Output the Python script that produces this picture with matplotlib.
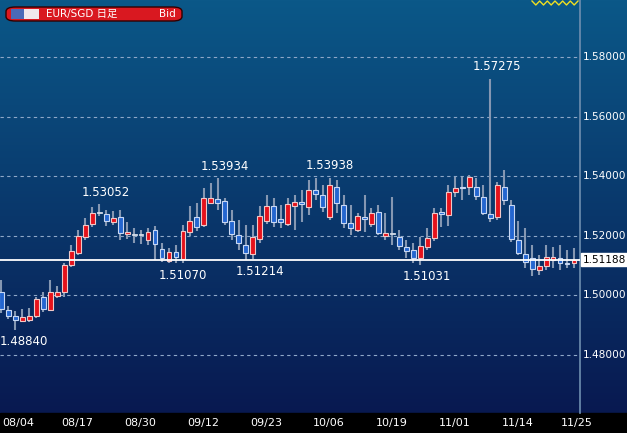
import numpy as np
import matplotlib.pyplot as plt
from matplotlib.patches import FancyBboxPatch, Rectangle

plt.rcParams['font.family'] = ['DejaVu Sans', 'Noto Sans CJK JP']

# データ (EUR/SGD 日足)
opens = [1.5010, 1.4949, 1.4930, 1.4915, 1.4918, 1.4931, 1.4993, 1.4950, 1.4997, 1.5010,
         1.5102, 1.5142, 1.5195, 1.5240, 1.5277, 1.5272, 1.5245, 1.5263, 1.5205, 1.5203,
         1.5202, 1.5186, 1.5219, 1.5155, 1.5115, 1.5145, 1.5123, 1.5212, 1.5264, 1.5236,
         1.5310, 1.5322, 1.5315, 1.5250, 1.5203, 1.5170, 1.5139, 1.5190, 1.5250, 1.5300,
         1.5255, 1.5240, 1.5300, 1.5312, 1.5297, 1.5354, 1.5337, 1.5263, 1.5363, 1.5303,
         1.5243, 1.5220, 1.5262, 1.5240, 1.5280, 1.5200, 1.5208, 1.5197, 1.5163, 1.5152,
         1.5126, 1.5162, 1.5193, 1.5280, 1.5270, 1.5346, 1.5363, 1.5363, 1.5364, 1.5330,
         1.5272, 1.5263, 1.5364, 1.5303, 1.5186, 1.5140, 1.5125, 1.5085, 1.5099, 1.5120,
         1.5126, 1.5110, 1.5108]
closes = [1.4953, 1.4929, 1.4917, 1.4928, 1.4932, 1.4988, 1.4953, 1.5010, 1.5010, 1.5100,
          1.5150, 1.5200, 1.5237, 1.5277, 1.5279, 1.5248, 1.5258, 1.5210, 1.5212, 1.5204,
          1.5203, 1.5212, 1.5172, 1.5125, 1.5145, 1.5127, 1.5215, 1.5249, 1.5229, 1.5327,
          1.5327, 1.5311, 1.5246, 1.5206, 1.5175, 1.5142, 1.5196, 1.5266, 1.5300, 1.5246,
          1.5245, 1.5305, 1.5312, 1.5305, 1.5354, 1.5340, 1.5297, 1.5370, 1.5310, 1.5243,
          1.5226, 1.5266, 1.5257, 1.5277, 1.5210, 1.5210, 1.5206, 1.5165, 1.5148, 1.5125,
          1.5166, 1.5193, 1.5277, 1.5273, 1.5347, 1.5360, 1.5360, 1.5397, 1.5334, 1.5277,
          1.5258, 1.5370, 1.5320, 1.5190, 1.5142, 1.5112, 1.5087, 1.5099, 1.5130, 1.5127,
          1.5110, 1.5106, 1.51188]
highs = [1.5050, 1.4963, 1.4946, 1.4953, 1.4957, 1.4995, 1.5011, 1.5050, 1.5030, 1.5110,
         1.5168, 1.5220, 1.5260, 1.5295, 1.53052, 1.5286, 1.5283, 1.5287, 1.5245, 1.5227,
         1.5220, 1.5226, 1.5233, 1.5176, 1.5159, 1.5169, 1.5236, 1.5300, 1.5310, 1.5360,
         1.5377, 1.53934, 1.5327, 1.5287, 1.5253, 1.5236, 1.5236, 1.5300, 1.5337, 1.5327,
         1.5303, 1.5327, 1.5337, 1.5353, 1.5387, 1.5393, 1.5370, 1.53938, 1.5387, 1.5337,
         1.5303, 1.5276, 1.5337, 1.5293, 1.5303, 1.5276, 1.5330, 1.5220, 1.5186, 1.5176,
         1.5196, 1.5226, 1.5293, 1.5293, 1.5370, 1.5397, 1.5397, 1.5404, 1.5394, 1.5370,
         1.57275, 1.5380, 1.5420, 1.5320, 1.5250, 1.5226, 1.5169, 1.5135, 1.5169, 1.5162,
         1.5169, 1.5152, 1.5159]
lows = [1.4940, 1.4919, 1.48840, 1.4910, 1.4911, 1.4924, 1.4944, 1.4947, 1.4990, 1.4995,
        1.5095, 1.5135, 1.5186, 1.5228, 1.5265, 1.5233, 1.5236, 1.5186, 1.5190, 1.5177,
        1.5172, 1.5170, 1.5119, 1.5112, 1.5110, 1.51070, 1.5110, 1.5200, 1.5216, 1.5229,
        1.5307, 1.5287, 1.5236, 1.5186, 1.5152, 1.5119, 1.51214, 1.5176, 1.5240, 1.5229,
        1.5225, 1.5233, 1.5220, 1.5246, 1.5270, 1.5320, 1.5280, 1.5253, 1.5276, 1.5226,
        1.5203, 1.5213, 1.5213, 1.5229, 1.5203, 1.5186, 1.5170, 1.5152, 1.5126, 1.5108,
        1.51031, 1.5152, 1.5183, 1.5230, 1.5233, 1.5330, 1.5320, 1.5337, 1.5320, 1.5270,
        1.5246, 1.5253, 1.5303, 1.5180, 1.5135, 1.5092, 1.5065, 1.5068, 1.5085, 1.5092,
        1.5085, 1.5092, 1.5092]

date_labels = ['08/04', '08/17', '08/30', '09/12', '09/23', '10/06', '10/19', '11/01', '11/14', '11/25']
date_pos = [2.6, 11, 20, 29, 38, 46.9, 56, 65, 74, 82.4]
price_ticks = [1.48, 1.50, 1.52, 1.54, 1.56, 1.58]

# 高値・安値ラベル (足の位置, 値, 上/下, 横ずれ)
extremes = [(14, 1.53052, 'top', 1), (31, 1.53934, 'top', 1), (47, 1.53938, 'top', 0),
            (70, 1.57275, 'top', 1), (25, 1.51070, 'bottom', 1), (36, 1.51214, 'bottom', 1),
            (60, 1.51031, 'bottom', 1), (2, 1.48840, 'bottom', 1.2)]
last_price = 1.51188

W, H = 627, 433
fig = plt.figure(figsize=(W / 100, H / 100), dpi=100)

# 背景グラデーション
bg = fig.add_axes([0, 0, 1, 1])
grad = np.linspace(0, 1, 256)[:, None]
top = np.array([11, 88, 136]) / 255
bot = np.array([8, 22, 78]) / 255
img = top[None, None, :] * (1 - grad[..., None]) + bot[None, None, :] * grad[..., None]
bg.imshow(img, aspect='auto', extent=[0, 1, 0, 1])
bg.add_patch(Rectangle((0, 0), 1, 20 / H, color='black', zorder=2))
bg.axvline(580 / W, ymin=20 / H, ymax=1, color='#6f8fb0', lw=1.2, zorder=3)
bg.set_xlim(0, 1)
bg.set_ylim(0, 1)
bg.axis('off')

ax = fig.add_axes([0, 20 / H, 580 / W, 413 / H])
ax.patch.set_alpha(0)
ax.set_xlim(-0.2, 82.86)
ax.set_ylim(1.4605, 1.5991)
for s in ax.spines.values():
    s.set_visible(False)
ax.set_xticks([])
ax.set_yticks([])

for p in price_ticks:
    ax.axhline(p, color='#8fa8c8', lw=0.8, ls=(0, (3, 3)), zorder=1)

x = np.arange(len(opens))
o = np.array(opens); c = np.array(closes)
up = c > o + 0.0002
dn = c < o - 0.0002
flat = ~(up | dn)
ax.vlines(x, lows, highs, color='#8597b2', lw=1.5, zorder=2)
body = np.maximum(np.abs(c - o), 0.0003)
bottoms = np.minimum(o, c)
ax.bar(x[up], body[up], bottom=bottoms[up], width=0.7, color='#e5121b', edgecolor='#f0c8c8', lw=0.8, zorder=3)
ax.bar(x[dn], body[dn], bottom=bottoms[dn], width=0.7, color='#2466d0', edgecolor='#c8d8f4', lw=0.8, zorder=3)
ax.bar(x[flat], body[flat], bottom=bottoms[flat], width=0.7, color='#a8b4c8', edgecolor='#d8e0ec', lw=0.6, zorder=3)

ax.axhline(last_price, color='white', lw=1.3, zorder=4)

for i, v, pos, dx in extremes:
    off = 4 if pos == 'top' else -4
    ax.annotate(f'{v:.5f}', (i + dx, highs[i] if pos == 'top' else lows[i]),
                xytext=(0, off), textcoords='offset points', ha='center',
                va='bottom' if pos == 'top' else 'top', color='white', fontsize=8.5, zorder=6)

# 右側の価格目盛り
for p in price_ticks:
    ax.text(83.3, p, f'{p:.5f}', color='white', fontsize=7.6, va='center', ha='left', clip_on=False)
ax.text(83.3, last_price, f'{last_price:.5f}', color='black', fontsize=7.6, va='center', ha='left',
        clip_on=False, zorder=7,
        bbox=dict(boxstyle='square,pad=0.15', facecolor='white', edgecolor='white'))

# 日付ラベル
for d, p in zip(date_labels, date_pos):
    fig.text(p * 7 / W, 10 / H, d, color='white', fontsize=8, ha='center', va='center')

# 左上のタイトルボックス
bg.add_patch(FancyBboxPatch((6 / W, (H - 21) / H), 176 / W, 14 / H,
                            boxstyle='round,pad=0,rounding_size=0.015', facecolor='#d91820',
                            edgecolor='#300000', lw=1, zorder=5, mutation_aspect=H / W))
bg.add_patch(Rectangle((11 / W, (H - 19) / H), 13 / W, 10 / H, facecolor='#4a6ab8', zorder=6))
bg.add_patch(Rectangle((24 / W, (H - 19) / H), 15 / W, 10 / H, facecolor='#f0e8ec', zorder=6))
fig.text(46 / W, (H - 14) / H, 'EUR/SGD 日足', color='white', fontsize=7.5, va='center',
         family=['DejaVu Sans', 'Noto Sans CJK JP'])
fig.text(176 / W, (H - 14) / H, 'Bid', color='white', fontsize=7.5, va='center', ha='right')

# 右上の黄色いジグザグ
zx = np.linspace(532, 578, 13)
zy = np.where(np.arange(13) % 2 == 0, H - 1, H - 5)
bg.plot(zx / W, zy / H, color='#f0e020', lw=1, zorder=6)

fig.savefig('out.png', dpi=100)
